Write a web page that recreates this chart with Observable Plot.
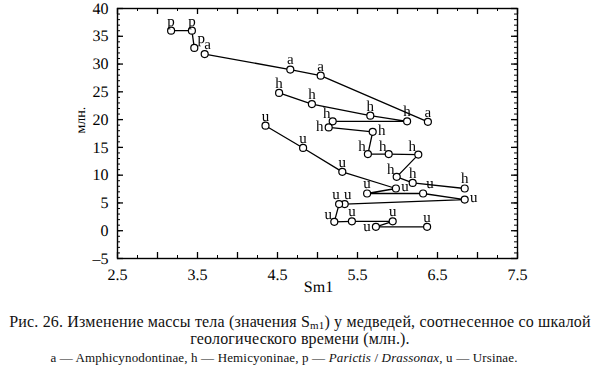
<!DOCTYPE html>
<html><head><meta charset="utf-8">
<script src="https://cdn.jsdelivr.net/npm/d3@7"></script>
<script src="https://cdn.jsdelivr.net/npm/@observablehq/plot@0.6"></script>
<style>
body{margin:0;background:#fff;width:600px;overflow:hidden;}
#cap{font-family:"Liberation Serif","Times New Roman",serif;color:#111;text-align:center;}
#cap .l1{font-size:16px;line-height:17px;padding-top:7px;letter-spacing:0.17px;}
#cap .l2{font-size:13px;line-height:16px;margin-top:3px;letter-spacing:0.15px;padding-right:32px;}
sub{font-size:11px;vertical-align:-2px;line-height:0;}
svg text{text-rendering:geometricPrecision;}
svg g[aria-label="text"]{opacity:0.99;}
</style></head><body>
<div id="chart"></div>
<div id="cap">
<div class="l1">Рис. 26. Изменение массы тела (значения S<sub>m1</sub>) у медведей, соотнесенное со шкалой<br>геологического времени (млн.).</div>
<div class="l2">a — Amphicynodontinae, h — Hemicyoninae, p — <i>Parictis</i> / <i>Drassonax</i>, u — Ursinae.</div>
</div>
<script>
// ---- data ----
const pX = [3.17, 3.43, 3.46];
const pY = [36, 36, 32.9];
const pPos = ["t", "t", "tr"];

const aX = [3.59, 4.66, 5.04, 6.38];
const aY = [31.8, 29.0, 27.9, 19.6];
const aPos = ["t+", "t", "t", "t"];

const hX = [4.52, 4.93, 5.66, 6.12, 5.19, 5.14, 5.69, 5.63, 5.89, 6.26, 5.99, 6.19, 6.84];
const hY = [24.8, 22.8, 20.7, 19.7, 19.7, 18.6, 17.8, 13.8, 13.8, 13.7, 9.7, 8.6, 7.6];
const hPos = ["t", "t", "t", "t", "tl", "l", "r", "tl", "tl", "tl", "tl", "t", "t"];

const uX = [4.35, 4.82, 5.31, 5.98, 5.62, 6.32, 6.84, 5.34, 5.27, 5.21, 5.43, 5.94, 5.73, 6.37];
const uY = [18.9, 14.9, 10.6, 7.6, 6.7, 6.7, 5.6, 4.8, 4.8, 1.6, 1.7, 1.7, 0.7, 0.7];
const uPos = ["t", "t", "t", "r", "t", "tr", "r", "t+", "t-", "tl", "t", "t", "l", "t"];

const xTickLabels = [2.5, 3.5, 4.5, 5.5, 6.5, 7.5];
const yTickLabels = [-5, 0, 5, 10, 15, 20, 25, 30, 35, 40];

const groups = [
  {g: "p", x: pX, y: pY, pos: pPos},
  {g: "a", x: aX, y: aY, pos: aPos},
  {g: "h", x: hX, y: hY, pos: hPos},
  {g: "u", x: uX, y: uY, pos: uPos}
];
const rows = groups.flatMap(s => s.x.map((x, i) => ({g: s.g, x, y: s.y[i], pos: s.pos[i]})));

// ---- layout ----
const W = 600, H = 306;
const mL = 117, mR = 83, mT = 8, mB = 48;
const iw = W - mL - mR, ih = H - mT - mB;
const ink = "black";

const xMinor = d3.range(2.5, 7.5001, 0.25);
const xMajor = d3.range(2.5, 7.5001, 0.5);
const yMinor = d3.range(-5, 40.001, 1);
const yMajor = d3.range(-5, 40.001, 5);

const offsets = {t: [0, -10], "t+": [3, -10], "t-": [-3, -10], tl: [-6, -8], tr: [7, -10], l: [-9, -1], r: [9, -2]};
const labelMarks = Object.entries(offsets).map(([k, [dx, dy]]) =>
  Plot.text(rows.filter(d => d.pos === k), {x: "x", y: "y", text: "g", dx, dy, fill: ink, fontSize: 15, lineAnchor: "middle"})
);

const chart = Plot.plot({
  width: W, height: H,
  marginLeft: mL, marginRight: mR, marginTop: mT, marginBottom: mB,
  style: {fontFamily: "'Liberation Serif','Times New Roman',serif", fontSize: "16px", color: ink, background: "white"},
  x: {domain: [2.5, 7.5]},
  y: {domain: [-5, 40]},
  marks: [
    Plot.frame({stroke: ink, strokeWidth: 1.4}),
    // inward ticks: left & right
    Plot.tickY(yMinor, {y: d => d, insetRight: iw - 3, stroke: ink}),
    Plot.tickY(yMajor, {y: d => d, insetRight: iw - 6, stroke: ink, strokeWidth: 1.3}),
    Plot.tickY(yMinor, {y: d => d, insetLeft: iw - 3, stroke: ink}),
    Plot.tickY(yMajor, {y: d => d, insetLeft: iw - 6, stroke: ink, strokeWidth: 1.3}),
    // inward ticks: bottom & top
    Plot.tickX(xMinor, {x: d => d, insetTop: ih - 3, stroke: ink}),
    Plot.tickX(xMajor, {x: d => d, insetTop: ih - 6, stroke: ink, strokeWidth: 1.3}),
    Plot.tickX(xMinor, {x: d => d, insetBottom: ih - 3, stroke: ink}),
    Plot.tickX(xMajor, {x: d => d, insetBottom: ih - 6, stroke: ink, strokeWidth: 1.3}),
    Plot.axisY(yTickLabels, {tickSize: 0, tickPadding: 9, fontSize: 16, label: null, tickFormat: d => d < 0 ? "–" + (-d) : String(d)}),
    Plot.axisX(xTickLabels, {tickSize: 0, tickPadding: 10, fontSize: 16, label: null, tickFormat: d => d.toFixed(1)}),
    Plot.text(["Sm1"], {frameAnchor: "bottom", text: d => d, dy: 33, dx: 1, fontSize: 16, fill: ink}),
    Plot.text(["млн."], {frameAnchor: "left", text: d => d, rotate: -90, dx: -37, fontSize: 14, fill: ink}),
    Plot.line(rows, {x: "x", y: "y", z: "g", stroke: ink, strokeWidth: 1.3}),
    Plot.dot(rows, {x: "x", y: "y", r: 3.5, fill: "white", stroke: ink, strokeWidth: 1.2}),
    ...labelMarks
  ]
});
document.getElementById("chart").appendChild(chart);
</script>
</body></html>
